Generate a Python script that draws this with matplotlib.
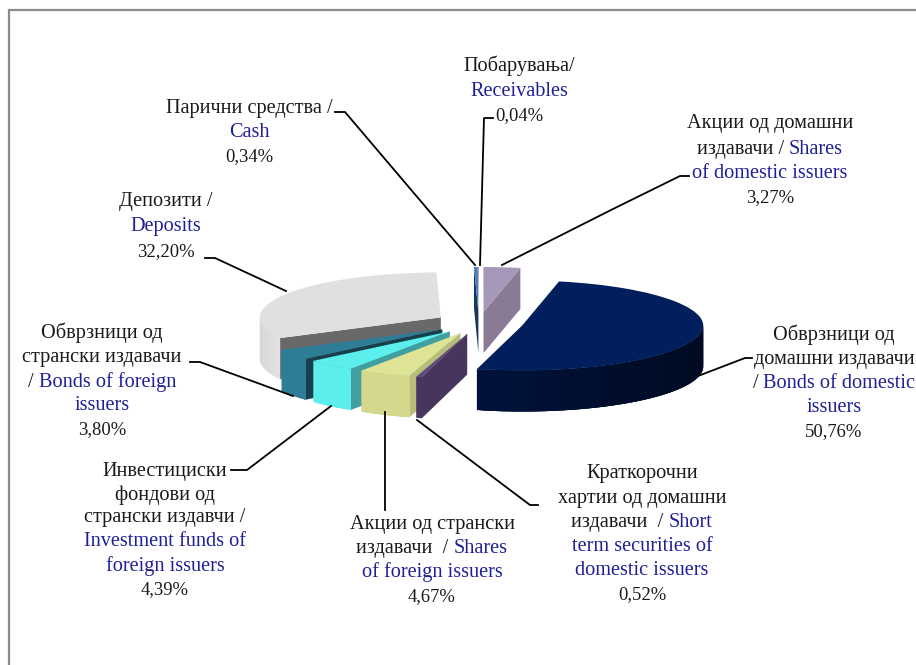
import numpy as np
import matplotlib
matplotlib.use('Agg')
import matplotlib.pyplot as plt
from matplotlib.colors import to_rgb

# clockwise from the top, cash first
names = ['cash', 'receivables', 'shares_dom', 'bonds_dom', 'short_term',
         'shares_for', 'funds_for', 'bonds_for', 'deposits']
values = [0.34, 0.04, 3.27, 50.76, 0.52, 4.67, 4.39, 3.80, 32.20]

# "black part|blue part" per line, the percent line is added from values
label_lines = [
    ['Парични средства /', '|Cash'],
    ['Побарувања/', '|Receivables'],
    ['Акции од домашни', 'издавачи / |Shares', '|of domestic issuers'],
    ['Обврзници од', 'домашни издавачи', '/ |Bonds of domestic', '|issuers'],
    ['Краткорочни', 'хартии од домашни', 'издавачи  / |Short', '|term securities of', '|domestic issuers'],
    ['Акции од странски', 'издавачи  / |Shares', '|of foreign issuers'],
    ['Инвестициски', 'фондови од', 'странски издавчи /', '|Investment funds of', '|foreign issuers'],
    ['Обврзници од', 'странски издавачи', '/ |Bonds of foreign', '|issuers'],
    ['Депозити /', '|Deposits'],
]

top_colors = ['#4a7ebb', '#17375e', '#a698b8', '#001f5c', '#5c4a7e',
              '#dfe396', '#5ceeec', '#2e7d97', '#e0e0e0']
rim_colors = ['#3a6496', '#17375e', '#897a96', '#00123a', '#48355e',
              '#d3d88c', '#5ceeec', '#2e7d97', '#dedede']
wall_colors = ['#17375e', '#17375e', '#897a96', '#00123a', '#48355e',
               '#b9bd7a', '#419f9f', '#173f4e', '#696969']
# back to front
draw_order = [8, 0, 1, 2, 3, 7, 6, 5, 4]

W, H = 916, 665
CX, CY = 479, 323      # pie centre in pixels
RX, RY = 181, 45       # squashed radius
DEPTH = 41 / RY        # thickness in data units

fig = plt.figure(figsize=(W / 100, H / 100), dpi=100, facecolor='white')
ax = fig.add_axes([0, 0, 1, 1])
wedges, _ = ax.pie(values, explode=[0.245] * len(values), startangle=91.4,
                   counterclock=False, colors=top_colors, radius=1,
                   wedgeprops={'linewidth': 0})
ax.set_aspect('auto')
ax.set_xlim(-CX / RX, (W - CX) / RX)
ax.set_ylim((CY - H) / RY, CY / RY)
ax.axis('off')


def shade(color, f):
    return tuple(min(1, c * f) for c in to_rgb(color))


for i in draw_order:
    w = wedges[i]
    z = 10 + 2 * draw_order.index(i)
    w.set_zorder(z + 1)
    x0, y0 = w.center
    # radial walls which face the viewer
    for th, normal in ((w.theta2, w.theta2 + 90), (w.theta1, w.theta1 - 90)):
        if np.sin(np.radians(normal)) < -0.01:
            ex = x0 + np.cos(np.radians(th))
            ey = y0 + np.sin(np.radians(th))
            ax.fill([x0, ex, ex, x0], [y0, ey, ey - DEPTH, y0 - DEPTH],
                    color=wall_colors[i], lw=0, zorder=z)
    # outer rim, cut in strips for the shading, each one runs under the next
    angles = np.linspace(w.theta1, w.theta2, max(3, int(w.theta2 - w.theta1) + 2))
    step = angles[1] - angles[0]
    for k, (a, b) in enumerate(zip(angles[:-1], angles[1:])):
        m = np.radians((a + b) / 2)
        if np.sin(m) >= 0:
            continue
        b2 = min(b + 2 * step, w.theta2)
        t = np.radians(np.linspace(a, b2, 6))
        xs = np.r_[x0 + np.cos(t), (x0 + np.cos(t))[::-1]]
        ys = np.r_[y0 + np.sin(t), (y0 + np.sin(t))[::-1] - DEPTH]
        f = 1.0
        if names[i] == 'bonds_dom':
            f = 1.05 - 0.45 * (np.cos(m) + 0.3) / 1.3
        if names[i] == 'deposits':
            f = 0.97 + 0.06 * (1 + np.cos(m)) / 0.15
        ax.fill(xs, ys, color=shade(rim_colors[i], f), lw=0, zorder=z)

# overlay in pixel coordinates for frame, leaders and labels
ov = fig.add_axes([0, 0, 1, 1], facecolor='none')
ov.set_xlim(0, W)
ov.set_ylim(H, 0)
ov.axis('off')

ov.plot([9, 9, W], [H, 10, 10], color='#8c8c8c', lw=1.6, solid_joinstyle='miter')

leaders = [
    [(335, 112), (345, 112), (475, 265)],
    [(493, 118), (484, 118), (480, 265)],
    [(689, 176), (680, 176), (613, 209), (502, 265)],
    [(752, 358), (745, 358), (698, 376)],
    [(538, 505), (530, 505), (417, 420)],
    [(385, 510), (385, 412)],
    [(231, 470), (247, 470), (331, 406)],
    [(190, 362), (200, 362), (293, 396)],
    [(205, 258), (215, 258), (286, 291)],
]
for pts in leaders:
    ov.plot([p[0] for p in pts], [p[1] for p in pts], color='black', lw=1.3, zorder=50)

# centre x of each label and baseline y of its lines
label_cx = [249, 519, 770, 834, 642, 432, 165, 102, 166]
label_ys = [
    [113, 137, 161],
    [71, 96, 120],
    [128, 154, 178, 202],
    [340, 364, 388, 412, 436],
    [478, 503, 527, 551, 575, 599],
    [529, 553, 577, 601],
    [476, 500, 522, 546, 571, 594],
    [338, 362, 387, 410, 434],
    [206, 231, 256],
]

FONT = 'Liberation Serif'
SIZE = 14.6
PCT_SIZE = 13.4
BLUE = '#1f1f9a'
renderer = fig.canvas.get_renderer()


def text_width(s, size=SIZE):
    t = ov.text(0, 0, s, fontsize=size, family=FONT)
    w = t.get_window_extent(renderer).width
    t.remove()
    return w


def draw_line(cx, y, line, size=SIZE):
    black, _, blue = line.partition('|') if '|' in line else (line, '', '')
    full = black + blue
    left = cx - text_width(full, size) / 2
    if black:
        ov.text(left, y, black, fontsize=size, family=FONT, color='#1a1a1a', ha='left', va='baseline')
    if blue:
        bx = left + text_width(full, size) - text_width(blue, size)
        ov.text(bx, y, blue, fontsize=size, family=FONT, color=BLUE, ha='left', va='baseline')


for v, lines, cx, ys in zip(values, label_lines, label_cx, label_ys):
    for line, y in zip(lines, ys):
        draw_line(cx, y, line)
    pct = f'{v:.2f}%'.replace('.', ',')
    draw_line(cx, ys[-1], pct, PCT_SIZE)

fig.savefig('out.png', dpi=100, facecolor='white')
